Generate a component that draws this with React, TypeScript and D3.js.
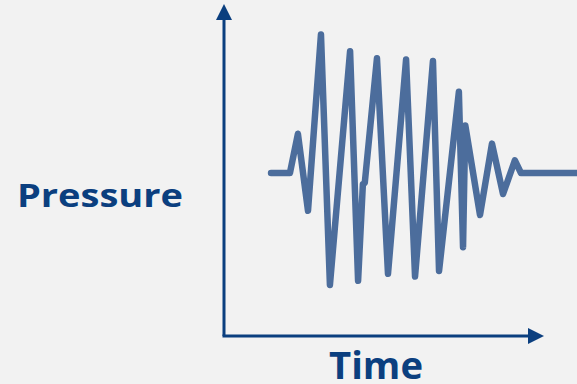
import React from "react";
import * as d3 from "d3";

const timeValues = [14.7, 20.6, 23.1, 26.25, 30.3, 33.1, 39.4, 41.9, 43.4, 44.0, 47.8, 51.25, 56.9, 59.7, 65.3, 67.2, 73.4, 74.7, 75.4, 80.0, 83.75, 87.2, 90.9, 92.8, 110.3];
const pressureValues = [0, 0, 0.28, -0.27, 0.99, -0.8, 0.87, -0.77, -0.08, -0.07, 0.82, -0.72, 0.81, -0.74, 0.8, -0.7, 0.58, -0.53, 0.34, -0.3, 0.21, -0.15, 0.09, 0, 0];
const xLabel = "Time";
const yLabel = "Pressure";

const W = 577;
const H = 384;

export default function App() {
  const x = d3.scaleLinear().domain([0, 100]).range([224, 544]);
  const y = d3.scaleLinear().domain([-1, 1]).range([313, 33]);
  const data = timeValues.map((t, i) => ({ t, p: pressureValues[i] }));
  const line = d3
    .line<{ t: number; p: number }>()
    .x((d) => x(d.t))
    .y((d) => y(d.p))
    .curve(d3.curveLinear);

  const axisColor = "#0b3f7f";
  const x0 = x(0);
  const yBottom = 336;
  const yTop = 4;
  const xEnd = 544;

  return (
    <div style={{ position: "fixed", left: 0, top: 0, width: W, height: H }}>
      <svg width={W} height={H} style={{ display: "block", background: "#f2f2f2" }}>
        {/* y axis */}
        <line x1={x0} y1={yBottom} x2={x0} y2={yTop + 14} stroke={axisColor} strokeWidth={3} />
        <path d={`M${x0},${yTop} L${x0 - 8},${yTop + 16} L${x0 + 8},${yTop + 16} Z`} fill={axisColor} />
        {/* x axis */}
        <line x1={x0 - 1.5} y1={yBottom} x2={xEnd - 14} y2={yBottom} stroke={axisColor} strokeWidth={3} />
        <path d={`M${xEnd},${yBottom} L${xEnd - 16},${yBottom - 8} L${xEnd - 16},${yBottom + 8} Z`} fill={axisColor} />
        {/* waveform */}
        <path
          d={line(data) || ""}
          fill="none"
          stroke="#4c6d9c"
          strokeWidth={6.5}
          strokeLinejoin="round"
          strokeLinecap="round"
        />
        <text
          x={17}
          y={207}
          fontFamily="'Open Sans', sans-serif"
          fontWeight={700}
          fontSize={32}
          fill={axisColor}
          textLength={166}
          lengthAdjust="spacingAndGlyphs"
        >
          {yLabel}
        </text>
        <text
          x={329}
          y={379}
          fontFamily="'Open Sans', sans-serif"
          fontWeight={700}
          fontSize={37}
          fill={axisColor}
          textLength={94}
          lengthAdjust="spacingAndGlyphs"
        >
          {xLabel}
        </text>
      </svg>
    </div>
  );
}
